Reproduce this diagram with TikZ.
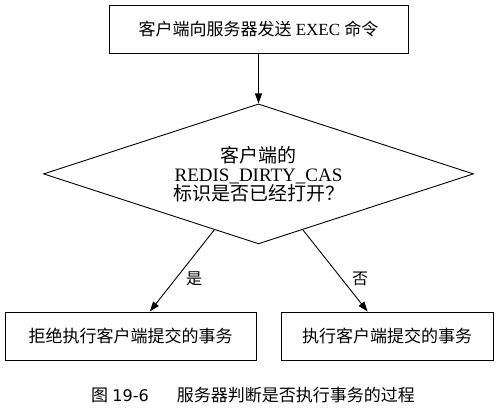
\documentclass[tikz,border=0pt]{standalone}
\usepackage{fontspec}
\setmainfont{Liberation Serif}
\newfontfamily\cjk{Noto Sans CJK SC}
\newfontfamily\capfont{DejaVu Sans}
\usetikzlibrary{
  arrows.meta,
  positioning,
  shapes.geometric
}

\begin{document}
\begin{tikzpicture}[
  x=1pt, y=1pt,
  box/.style={draw, line width=0.9pt, align=center, inner sep=0pt,
    minimum height=48pt, font=\fontsize{17}{19}\selectfont},
  choice/.style={draw, diamond, line width=0.9pt, align=center, inner sep=0pt,
    minimum width=430pt, minimum height=140pt, aspect=3.07,
    font=\fontsize{19}{19}\selectfont},
  arrow/.style={-{Triangle[length=10pt, width=7pt]}, line width=0.9pt},
  tag/.style={font=\fontsize{16}{18}\selectfont\cjk, inner sep=1pt}
]
\useasboundingbox (0,0) rectangle (498,-417);

\node[box, minimum width=299pt] (exec) at (258.5,-29)
  {{\cjk 客户端向服务器发送} EXEC {\cjk 命令}};
\node[choice, below=50pt of exec] (dirty)
  {{\cjk 客户端的}\\REDIS\_DIRTY\_CAS\\{\cjk 标识是否已经打开？}};

\node[box, minimum width=251pt] (reject) at (130.5,-336)
  {\cjk 拒绝执行客户端提交的事务};
\node[box, minimum width=212pt] (run) at (387,-336)
  {\cjk 执行客户端提交的事务};

\draw[arrow] (exec) -- (dirty);
\draw[arrow] (dirty) -- node[tag, pos=0.6, right=9pt] {是} (reject);
\draw[arrow] (dirty) -- node[tag, pos=0.6, right=9pt] {否} (run);

% caption
\node[font=\fontsize{17}{19}\selectfont] (caption) at (253,-395)
  {{\cjk 图} {\capfont\fontsize{16}{19}\selectfont 19-6}\hspace{28pt}{\cjk 服务器判断是否执行事务的过程}};
\end{tikzpicture}
\end{document}
